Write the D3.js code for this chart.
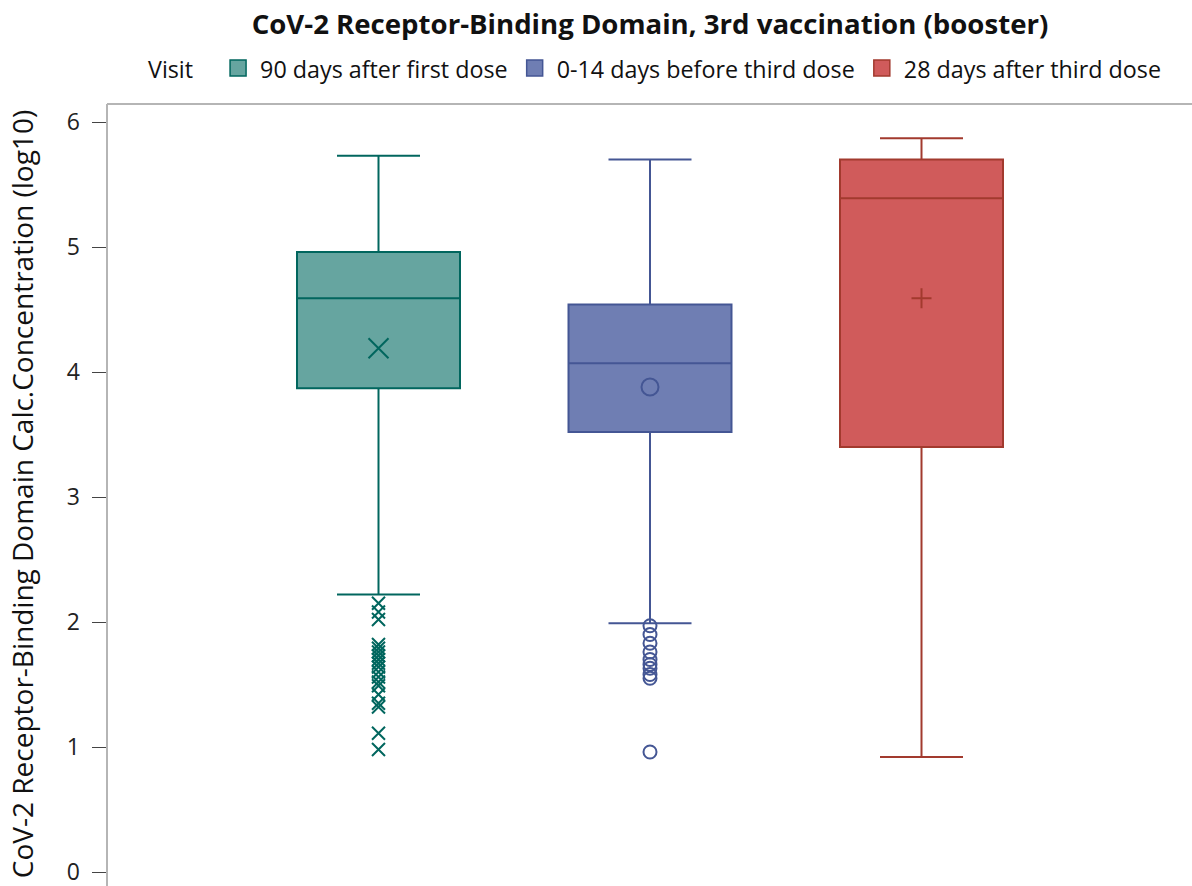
<!DOCTYPE html>
<html><head><meta charset="utf-8">
<script src="https://cdn.jsdelivr.net/npm/d3@7"></script>
<style>body{margin:0;background:#fff}</style>
</head><body>
<svg id="c" width="1192" height="886"></svg>
<script>
const categories = ["90 days after first dose", "0-14 days before third dose", "28 days after third dose"];
const whiskerHigh = [5.73, 5.70, 5.87];
const q3 = [4.96, 4.54, 5.70];
const median = [4.59, 4.07, 5.39];
const q1 = [3.87, 3.52, 3.40];
const whiskerLow = [2.22, 1.99, 0.92];
const means = [4.19, 3.88, 4.59];
const outliers1 = [2.15, 2.08, 2.02, 1.82, 1.79, 1.76, 1.73, 1.70, 1.67, 1.64, 1.60, 1.56, 1.52, 1.49, 1.42, 1.35, 1.32, 1.11, 0.98];
const outliers2 = [1.97, 1.90, 1.83, 1.76, 1.70, 1.66, 1.63, 1.58, 1.55, 0.96];
const outliers3 = [];
const yTicks = [0, 1, 2, 3, 4, 5, 6];

const strokes = ["#01665e", "#445694", "#a23a2e"];
const fills = ["#66a5a0", "#6f7eb3", "#d05b5b"];
const markers = ["x", "circle", "plus"];
const outliers = [outliers1, outliers2, outliers3];

const svg = d3.select("#c");
const font = "'Open Sans', sans-serif";
const left = 107, right = 1193;
const x = d3.scalePoint().domain(categories).range([left, right]).padding(1);
const y = d3.scaleLinear().domain([0, 6]).range([872, 122]);
const boxW = 163;

svg.append("text").attr("x", 650).attr("y", 34).attr("text-anchor", "middle")
  .attr("font-family", font).attr("font-weight", "bold").attr("font-size", 27.6).attr("fill", "#111")
  .text("CoV-2 Receptor-Binding Domain, 3rd vaccination (booster)");

// legend
const lg = svg.append("g").attr("font-family", font).attr("font-size", 23.3).attr("fill", "#111");
let lx = 148;
const vt = lg.append("text").attr("x", lx).attr("y", 78).text("Visit");
lx += vt.node().getComputedTextLength() + 37;
categories.forEach((c, i) => {
  lg.append("rect").attr("x", lx).attr("y", 60).attr("width", 16).attr("height", 16)
    .attr("fill", fills[i]).attr("stroke", strokes[i]).attr("stroke-width", 1.5);
  const t = lg.append("text").attr("x", lx + 30).attr("y", 78).text(c);
  lx += 30 + t.node().getComputedTextLength() + 19;
});

// frame
svg.append("line").attr("x1", left).attr("x2", 1192).attr("y1", 104).attr("y2", 104).attr("stroke", "#b5b5b5").attr("stroke-width", 2);

const yAxis = d3.axisLeft(y).tickValues(yTicks).tickSize(15).tickPadding(12).tickFormat(d3.format("d"));
const ga = svg.append("g").attr("transform", `translate(${left},0)`).call(yAxis);
ga.select(".domain").remove();
ga.append("line").attr("x1", 0).attr("x2", 0).attr("y1", 104).attr("y2", 886).attr("stroke", "#b5b5b5").attr("stroke-width", 2);
ga.selectAll(".tick line").attr("stroke", "#444").attr("stroke-width", 1);
ga.selectAll(".tick text").attr("font-family", font).attr("font-size", 23).attr("fill", "#222");

svg.append("text").attr("transform", `translate(33,494) rotate(-90)`).attr("text-anchor", "middle")
  .attr("font-family", font).attr("font-size", 28).attr("fill", "#111")
  .text("CoV-2 Receptor-Binding Domain Calc.Concentration (log10)");

function marker(g, type, cx, cy, s, col, sw) {
  if (type === "x") {
    g.append("path").attr("d", `M${cx - s},${cy - s}L${cx + s},${cy + s}M${cx - s},${cy + s}L${cx + s},${cy - s}`)
      .attr("stroke", col).attr("stroke-width", sw).attr("fill", "none");
  } else if (type === "circle") {
    g.append("circle").attr("cx", cx).attr("cy", cy).attr("r", s).attr("stroke", col).attr("stroke-width", sw).attr("fill", "none");
  } else {
    g.append("path").attr("d", `M${cx - s},${cy}L${cx + s},${cy}M${cx},${cy - s}L${cx},${cy + s}`)
      .attr("stroke", col).attr("stroke-width", sw).attr("fill", "none");
  }
}

categories.forEach((c, i) => {
  const g = svg.append("g");
  const cx = x(c), col = strokes[i];
  const capW = 83;
  g.append("line").attr("x1", cx).attr("x2", cx).attr("y1", y(whiskerHigh[i])).attr("y2", y(q3[i])).attr("stroke", col).attr("stroke-width", 2);
  g.append("line").attr("x1", cx).attr("x2", cx).attr("y1", y(q1[i])).attr("y2", y(whiskerLow[i])).attr("stroke", col).attr("stroke-width", 2);
  g.append("line").attr("x1", cx - capW / 2).attr("x2", cx + capW / 2).attr("y1", y(whiskerHigh[i])).attr("y2", y(whiskerHigh[i])).attr("stroke", col).attr("stroke-width", 2);
  g.append("line").attr("x1", cx - capW / 2).attr("x2", cx + capW / 2).attr("y1", y(whiskerLow[i])).attr("y2", y(whiskerLow[i])).attr("stroke", col).attr("stroke-width", 2);
  g.append("rect").attr("x", cx - boxW / 2).attr("width", boxW).attr("y", y(q3[i])).attr("height", y(q1[i]) - y(q3[i]))
    .attr("fill", fills[i]).attr("stroke", col).attr("stroke-width", 2);
  g.append("line").attr("x1", cx - boxW / 2).attr("x2", cx + boxW / 2).attr("y1", y(median[i])).attr("y2", y(median[i])).attr("stroke", col).attr("stroke-width", 2);
  marker(g, markers[i], cx, y(means[i]), markers[i] === "circle" ? 8.5 : 10, col, 2);
  outliers[i].forEach(v => marker(g, markers[i], cx, y(v), 6.5, col, 2));
});
</script>
</body></html>
